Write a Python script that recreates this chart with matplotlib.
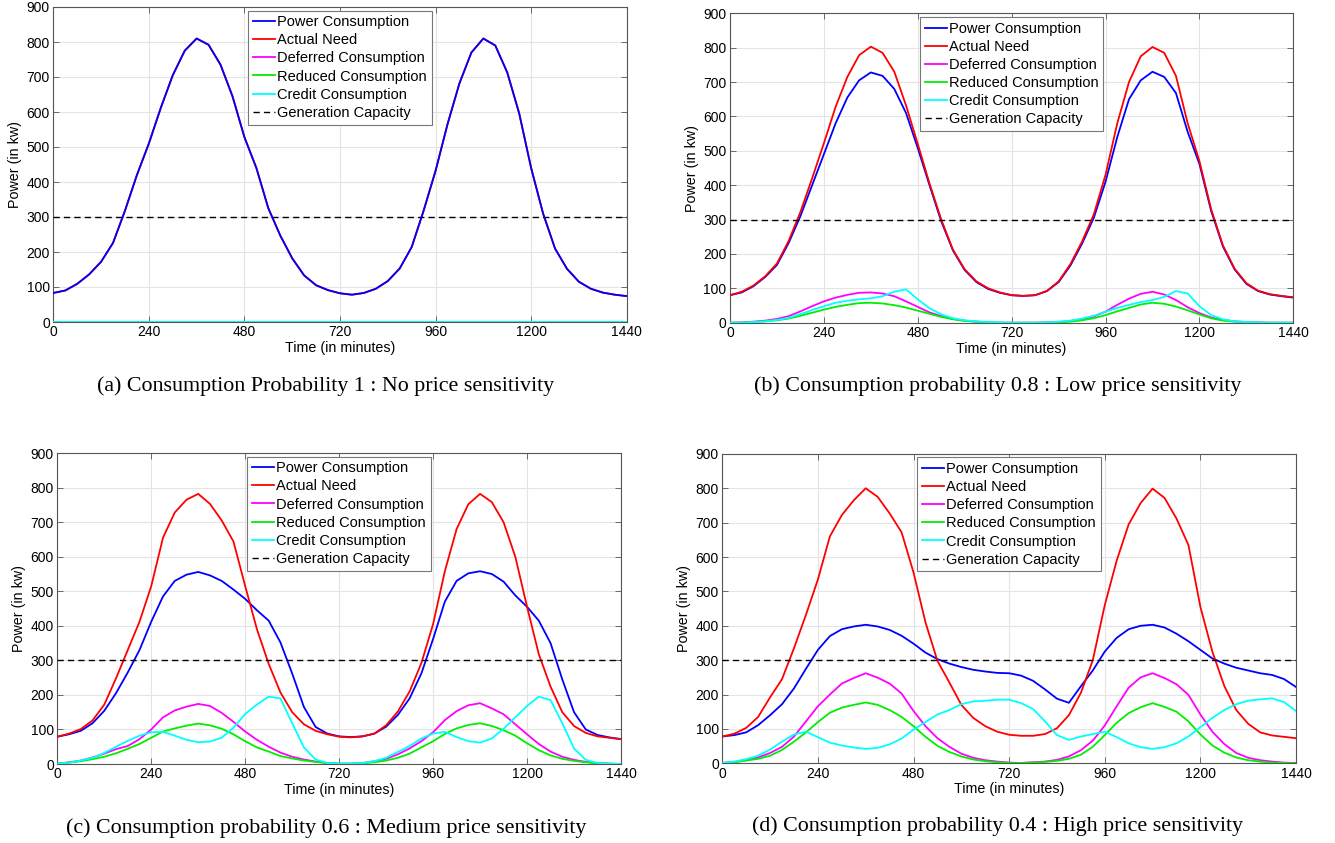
import matplotlib
matplotlib.use("Agg")
import matplotlib.pyplot as plt

plt.rcParams['font.family'] = ['Liberation Sans', 'DejaVu Sans']

time_min = list(range(0, 1441, 30))
gen_capacity = 300
x_ticks = [0, 240, 480, 720, 960, 1200, 1440]
y_ticks = [0, 100, 200, 300, 400, 500, 600, 700, 800, 900]
series_labels = ["Power Consumption", "Actual Need", "Deferred Consumption",
                 "Reduced Consumption", "Credit Consumption", "Generation Capacity"]
captions = ["(a) Consumption Probability 1 : No price sensitivity",
            "(b) Consumption probability 0.8 : Low price sensitivity",
            "(c) Consumption probability 0.6 : Medium price sensitivity",
            "(d) Consumption probability 0.4 : High price sensitivity"]

# (a) probability 1
a_power = [83, 90, 109, 136, 172, 226, 318, 420, 510, 612, 705, 775, 810, 792, 735, 645, 528, 440, 325, 247,
           182, 133, 105, 91, 82, 78, 83, 95, 117, 153, 214, 318, 432, 565, 682, 770, 810, 790, 713, 596,
           440, 310, 210, 152, 115, 95, 84, 78, 74]
a_need = [83, 90, 109, 136, 172, 226, 318, 420, 510, 612, 705, 775, 810, 792, 735, 645, 528, 440, 325, 247,
          182, 133, 105, 91, 82, 78, 83, 95, 117, 153, 214, 318, 432, 565, 682, 770, 810, 790, 713, 596,
          440, 310, 210, 152, 115, 95, 84, 78, 74]
a_deferred = [0] * 49
a_reduced = [0] * 49
a_credit = [0] * 49

# (b) probability 0.8
b_need = [80, 90, 108, 135, 172, 238, 322, 420, 522, 628, 715, 778, 803, 785, 730, 632, 520, 405, 300, 212,
          155, 120, 100, 88, 80, 78, 80, 92, 120, 170, 236, 315, 430, 580, 700, 775, 802, 785, 718, 580,
          470, 330, 225, 157, 115, 93, 83, 78, 74]
b_power = [80, 88, 106, 133, 168, 232, 310, 400, 490, 580, 655, 705, 728, 718, 680, 610, 508, 400, 295, 210,
           153, 118, 98, 87, 80, 78, 80, 92, 118, 166, 230, 305, 410, 540, 650, 705, 730, 715, 668, 555,
           462, 325, 222, 155, 113, 92, 82, 77, 73]
b_deferred = [0, 1, 3, 6, 11, 19, 33, 48, 62, 73, 81, 87, 88, 85, 77, 62, 46, 30, 19, 11,
              6, 3, 1, 0, 0, 0, 0, 1, 2, 5, 10, 18, 32, 52, 70, 84, 90, 82, 66, 45,
              28, 15, 8, 4, 2, 1, 0, 0, 0]
b_reduced = [0, 0, 2, 4, 7, 12, 20, 29, 38, 46, 52, 57, 58, 56, 51, 44, 35, 26, 17, 10,
             5, 3, 1, 0, 0, 0, 0, 0, 1, 3, 7, 13, 22, 33, 43, 53, 58, 55, 47, 36,
             24, 13, 6, 3, 1, 0, 0, 0, 0]
b_credit = [0, 0, 2, 4, 8, 14, 25, 37, 48, 58, 64, 68, 71, 77, 90, 97, 68, 42, 24, 13,
            7, 4, 2, 1, 0, 0, 0, 1, 3, 6, 12, 20, 32, 43, 52, 60, 66, 75, 92, 85,
            48, 22, 10, 4, 2, 1, 0, 0, 0]

# (c) probability 0.6
c_need = [79, 88, 101, 126, 172, 248, 330, 412, 515, 655, 728, 765, 782, 753, 705, 644, 515, 390, 290, 207,
          150, 115, 96, 86, 79, 77, 80, 88, 112, 152, 210, 292, 405, 558, 680, 752, 782, 758, 700, 600,
          455, 318, 224, 150, 110, 90, 80, 76, 72]
c_power = [79, 86, 96, 118, 154, 205, 265, 330, 412, 485, 530, 548, 556, 546, 530, 505, 478, 445, 415, 352,
           262, 165, 107, 88, 80, 78, 80, 88, 108, 142, 190, 262, 362, 470, 530, 552, 558, 550, 528, 488,
           455, 415, 350, 245, 150, 100, 84, 77, 72]
c_deferred = [1, 5, 10, 19, 30, 43, 52, 72, 100, 135, 155, 166, 174, 168, 148, 122, 94, 70, 50, 33,
              21, 13, 7, 3, 1, 1, 3, 8, 15, 28, 45, 66, 92, 127, 153, 170, 176, 161, 144, 115,
              86, 58, 36, 21, 12, 6, 3, 1, 0]
c_reduced = [1, 4, 8, 14, 21, 31, 44, 58, 76, 94, 103, 111, 117, 112, 102, 86, 66, 48, 36, 23,
             16, 10, 6, 3, 1, 1, 2, 5, 10, 18, 30, 48, 66, 87, 103, 113, 118, 110, 98, 82,
             60, 40, 25, 15, 9, 5, 2, 1, 0]
c_credit = [1, 4, 10, 18, 32, 50, 67, 82, 92, 93, 82, 70, 63, 65, 76, 105, 145, 172, 195, 190,
            118, 48, 13, 3, 1, 1, 3, 8, 18, 35, 52, 74, 88, 93, 78, 66, 62, 74, 102, 135,
            168, 195, 185, 118, 45, 12, 3, 1, 0]

# (d) probability 0.4
d_need = [78, 86, 103, 135, 192, 245, 335, 432, 535, 660, 722, 765, 800, 775, 727, 672, 555, 410, 298, 235,
          170, 132, 108, 92, 83, 80, 80, 85, 102, 140, 205, 300, 460, 590, 695, 757, 799, 772, 712, 635,
          455, 325, 225, 155, 115, 90, 81, 77, 73]
d_power = [78, 82, 90, 111, 140, 172, 218, 275, 330, 370, 390, 398, 403, 398, 388, 371, 348, 322, 303, 290,
           280, 272, 267, 263, 262, 255, 240, 215, 188, 176, 224, 270, 325, 365, 390, 400, 403, 395, 377, 355,
           330, 305, 290, 278, 270, 262, 257, 245, 222]
d_deferred = [1, 4, 9, 17, 30, 48, 78, 122, 166, 200, 232, 248, 262, 249, 232, 203, 152, 108, 73, 48,
              28, 16, 9, 5, 2, 1, 3, 5, 10, 20, 38, 66, 110, 166, 220, 250, 262, 248, 230, 199,
              142, 92, 56, 30, 16, 9, 5, 2, 1]
d_reduced = [1, 3, 8, 13, 22, 39, 63, 90, 120, 147, 162, 170, 177, 170, 155, 135, 108, 77, 51, 33,
             20, 11, 6, 3, 1, 1, 2, 4, 7, 13, 25, 48, 82, 118, 146, 163, 175, 164, 150, 122,
             84, 52, 31, 17, 9, 5, 2, 1, 0]
d_credit = [1, 5, 12, 22, 40, 63, 84, 92, 76, 60, 52, 46, 42, 45, 55, 72, 98, 120, 142, 155,
            172, 180, 182, 185, 185, 175, 158, 122, 82, 68, 78, 85, 92, 76, 58, 47, 42, 47, 58, 78,
            105, 132, 155, 172, 182, 186, 189, 178, 152]

# ---------------- layout ----------------
W, H = 1335, 843
fig = plt.figure(figsize=(W / 100, H / 100), dpi=100)


def px_rect(left, right, top, bottom):
    return [left / W, 1 - bottom / H, (right - left) / W, (bottom - top) / H]


panels = [
    (px_rect(53.3, 626.7, 7.0, 322.0), (a_power, a_need, a_deferred, a_reduced, a_credit), True,
     (326, 386.5)),
    (px_rect(730.0, 1293.3, 13.3, 322.7), (b_power, b_need, b_deferred, b_reduced, b_credit), False,
     (998, 386.0)),
    (px_rect(57.3, 621.0, 453.1, 764.0), (c_power, c_need, c_deferred, c_reduced, c_credit), False,
     (326, 828.0)),
    (px_rect(722.3, 1296.0, 453.9, 763.3), (d_power, d_need, d_deferred, d_reduced, d_credit), False,
     (998, 826.5)),
]

colors = ["#0000ff", "#ff0000", "#ff00ff", "#00ee00", "#00ffff"]
frame_col = "#555555"

for idx, (rect, data, blue_top, cap_pos) in enumerate(panels):
    ax = fig.add_axes(rect)
    power, need, deferred, reduced, credit = data
    z_power = 5 if blue_top else 3
    z_need = 3 if blue_top else 4
    h_power, = ax.plot(time_min, power, color=colors[0], lw=1.3, zorder=z_power)
    h_need, = ax.plot(time_min, need, color=colors[1], lw=1.3, zorder=z_need)
    h_def, = ax.plot(time_min, deferred, color=colors[2], lw=1.3, zorder=4.1)
    h_red, = ax.plot(time_min, reduced, color=colors[3], lw=1.3, zorder=4.2)
    h_cred, = ax.plot(time_min, credit, color=colors[4], lw=1.3, zorder=4.3)
    h_gen, = ax.plot([time_min[0], time_min[-1]], [gen_capacity, gen_capacity],
                     color="black", lw=1.0, ls=(0, (4.5, 3)), zorder=4.5)

    ax.set_xlim(0, 1440)
    ax.set_ylim(0, 900)
    ax.set_xticks(x_ticks)
    ax.set_yticks(y_ticks)
    ax.grid(True, color="#e4e4e4", lw=0.8, zorder=0)
    ax.set_axisbelow(True)
    for sp in ax.spines.values():
        sp.set_color(frame_col)
        sp.set_linewidth(0.8)
    ax.tick_params(direction="in", top=True, right=True, length=4, width=0.6,
                   colors=frame_col, labelcolor="black", labelsize=10, pad=2.5)
    ax.set_xlabel("Time (in minutes)", fontsize=10.3, labelpad=1)
    ax.set_ylabel("Power (in kw)", fontsize=10.3, labelpad=3)

    leg = ax.legend([h_power, h_need, h_def, h_red, h_cred, h_gen], series_labels,
                    loc="upper center", bbox_to_anchor=(0.5, 1 - 3.5 / (rect[3] * H)),
                    borderaxespad=0, fontsize=10.5, handlelength=1.5, handletextpad=0.15,
                    labelspacing=0.28, borderpad=0.33, fancybox=False, framealpha=1,
                    edgecolor="#777777")
    leg.get_frame().set_linewidth(0.8)
    leg.set_zorder(10)

    fig.text(cap_pos[0] / W, 1 - cap_pos[1] / H, captions[idx], ha="center", va="center",
             fontsize=15.8, family=["Liberation Serif", "DejaVu Serif"])

fig.savefig("out.png", dpi=100)
